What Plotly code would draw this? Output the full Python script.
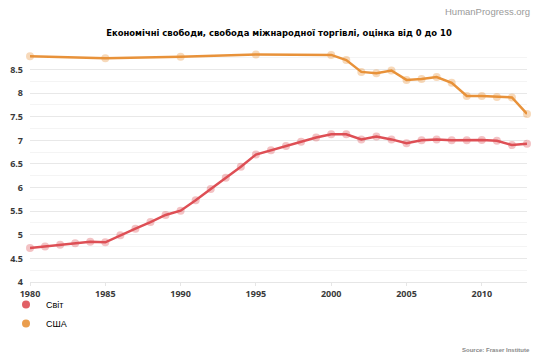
import plotly.graph_objects as go

world_years = list(range(1980, 2014))
world_values = [4.72, 4.75, 4.79, 4.82, 4.85, 4.84, 4.99, 5.13, 5.27, 5.42,
                5.51, 5.73, 5.97, 6.21, 6.44, 6.70, 6.79, 6.88, 6.97, 7.06,
                7.13, 7.13, 7.02, 7.08, 7.02, 6.94, 7.00, 7.02, 7.00, 7.00,
                7.01, 6.99, 6.90, 6.93]

usa_years = [1980, 1985, 1990, 1995, 2000, 2001, 2002, 2003, 2004, 2005,
             2006, 2007, 2008, 2009, 2010, 2011, 2012, 2013]
usa_values = [8.78, 8.74, 8.77, 8.82, 8.81, 8.70, 8.45, 8.42, 8.48, 8.28,
              8.30, 8.34, 8.22, 7.94, 7.94, 7.92, 7.91, 7.56]

series_names = ["Світ", "США"]
line_colors = ["#de4f55", "#e8923a"]
marker_colors = ["rgba(222,79,85,0.35)", "rgba(232,146,58,0.35)"]

x_ticks = [1980, 1985, 1990, 1995, 2000, 2005, 2010]
y_ticks = [4, 4.5, 5, 5.5, 6, 6.5, 7, 7.5, 8, 8.5]
y_labels = ["4", "4.5", "5", "5.5", "6", "6.5", "7", "7.5", "8", "8.5"]

title_text = "Економічні свободи, свобода міжнародної торгівлі, оцінка від 0 до 10"

W, H = 558, 357
ML, MR, MT, MB = 30, 31, 53, 75
PW, PH = W - ML - MR, H - MT - MB


def px_to_paper(px, py):
    return (px - ML) / PW, (H - MB - py) / PH


fig = go.Figure()
for name, xs, ys, lc, mc in zip(series_names, [world_years, usa_years],
                                [world_values, usa_values], line_colors, marker_colors):
    fig.add_trace(go.Scatter(
        x=xs, y=ys, mode="lines+markers", name=name, showlegend=False,
        line=dict(color=lc, width=2.5),
        marker=dict(color=mc, size=8, line=dict(width=0)),
        cliponaxis=False,
    ))
    fig.add_trace(go.Scatter(
        x=[None], y=[None], mode="markers", name=name, showlegend=True,
        marker=dict(color=lc, size=8, opacity=0.9),
    ))

hx, hy = px_to_paper(532, 12)
sx, sy = px_to_paper(532, 350)
lx, ly = px_to_paper(6, 290)

tick_font = dict(family="Open Sans, sans-serif", size=9, color="#3a3a3a", weight="bold")

fig.update_layout(
    width=W, height=H,
    margin=dict(l=ML, r=MR, t=MT, b=MB, autoexpand=False),
    paper_bgcolor="white", plot_bgcolor="white",
    title=dict(text="<b>" + title_text + "</b>", x=279 / W, xanchor="center",
               xref="container", y=1 - 33 / H, yanchor="middle",
               font=dict(family="DejaVu Sans Condensed, sans-serif",
                         size=9.4, color="black")),
    xaxis=dict(range=[1980, 2013], tickvals=x_ticks, ticktext=[str(t) for t in x_ticks],
               showgrid=False, zeroline=False, showline=True, linecolor="#e6e6e6",
               linewidth=1, ticks="outside", ticklen=3, tickcolor="#e6e6e6",
               automargin=False, tickfont=tick_font, fixedrange=True),
    yaxis=dict(range=[4, 8.85], tickvals=y_ticks, ticktext=y_labels,
               showgrid=True, gridcolor="#e8e8e8", gridwidth=1, zeroline=False,
               minor=dict(dtick=0.25, tick0=4, showgrid=True, gridcolor="#f4f4f4", gridwidth=1),
               ticks="", ticklabelstandoff=6, automargin=False,
               tickfont=tick_font, fixedrange=True),
    legend=dict(x=lx, y=ly, xanchor="left", yanchor="top", orientation="v",
                font=dict(family="Liberation Sans, Arial, sans-serif", size=9, color="black"),
                itemwidth=30, tracegroupgap=0, bgcolor="rgba(0,0,0,0)"),
    annotations=[
        dict(text="HumanProgress.org", xref="paper", yref="paper",
             x=hx, y=hy, xanchor="right", yanchor="middle",
             showarrow=False, font=dict(family="Liberation Sans, Arial, sans-serif",
                                         size=9.5, color="#9a9a9a")),
        dict(text="<b>Source: Fraser Institute</b>", xref="paper", yref="paper",
             x=sx, y=sy, xanchor="right", yanchor="middle",
             showarrow=False, font=dict(family="Liberation Sans, Arial, sans-serif",
                                         size=6, color="#888888")),
    ],
)

fig.write_html("out.html", config={"displayModeBar": False},
               post_script="document.body.style.margin='0';document.body.style.overflow='hidden';")
